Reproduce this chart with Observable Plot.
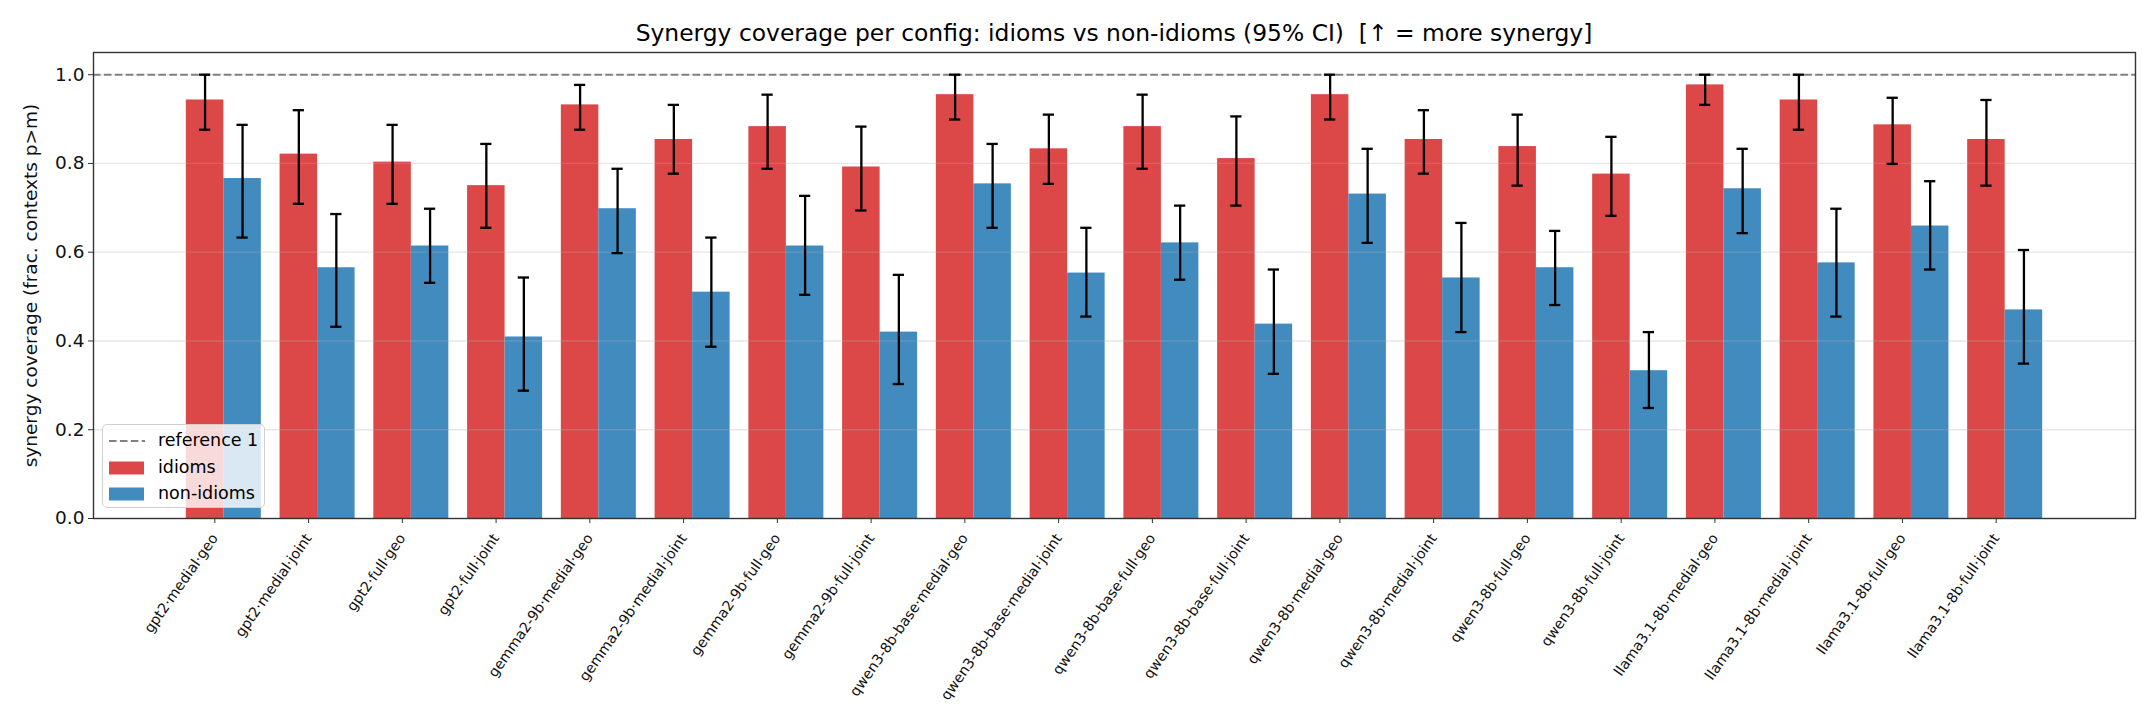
<!DOCTYPE html>
<html>
<head>
<meta charset="utf-8">
<script src="https://cdn.jsdelivr.net/npm/d3@7"></script>
<script src="https://cdn.jsdelivr.net/npm/@observablehq/plot@0.6"></script>
<style>
  html, body { margin: 0; padding: 0; background: #fff; }
  body { font-family: "DejaVu Sans", sans-serif; }
  #wrap { position: relative; width: 2156px; height: 728px; }
  #title { position: absolute; left: 93px; width: 2042px; top: 22px; text-align: center; font-size: 23.4px; color: #000; white-space: pre; line-height: 1; }
  #legend { position: absolute; left: 102px; top: 424px; width: 163px; height: 84px; border: 1.3px solid #d0d0d0; border-radius: 5px; background: rgba(255,255,255,0.8); box-sizing: border-box; }
  .lg { position: absolute; left: 0; font-size: 17.5px; color: #000; line-height: 1; }
  .lg svg { position: absolute; left: 6px; }
  .lg span { position: absolute; left: 55px; white-space: nowrap; }
</style>
</head>
<body>
<div id="wrap">
  <div id="chart"></div>
  <div id="title"></div>
  <div id="legend"></div>
</div>
<script>
const categories = [
  "gpt2·medial·geo", "gpt2·medial·joint", "gpt2·full·geo", "gpt2·full·joint",
  "gemma2-9b·medial·geo", "gemma2-9b·medial·joint", "gemma2-9b·full·geo", "gemma2-9b·full·joint",
  "qwen3-8b-base·medial·geo", "qwen3-8b-base·medial·joint", "qwen3-8b-base·full·geo", "qwen3-8b-base·full·joint",
  "qwen3-8b·medial·geo", "qwen3-8b·medial·joint", "qwen3-8b·full·geo", "qwen3-8b·full·joint",
  "llama3.1-8b·medial·geo", "llama3.1-8b·medial·joint", "llama3.1-8b·full·geo", "llama3.1-8b·full·joint"
];
const idiomsMean = [0.943, 0.821, 0.803, 0.750, 0.932, 0.854, 0.883, 0.792, 0.955, 0.833,
                    0.883, 0.811, 0.955, 0.854, 0.838, 0.776, 0.977, 0.943, 0.887, 0.854];
const idiomsLo   = [0.876, 0.709, 0.709, 0.655, 0.876, 0.777, 0.788, 0.694, 0.899, 0.754,
                    0.788, 0.705, 0.899, 0.777, 0.750, 0.682, 0.932, 0.876, 0.799, 0.750];
const idiomsHi   = [1.000, 0.920, 0.887, 0.844, 0.977, 0.932, 0.955, 0.883, 1.000, 0.910,
                    0.955, 0.906, 1.000, 0.920, 0.910, 0.860, 1.000, 1.000, 0.948, 0.943];
const nonMean = [0.766, 0.565, 0.614, 0.409, 0.698, 0.510, 0.614, 0.420, 0.754, 0.553,
                 0.621, 0.438, 0.731, 0.542, 0.565, 0.333, 0.743, 0.576, 0.659, 0.470];
const nonLo   = [0.633, 0.432, 0.531, 0.288, 0.598, 0.387, 0.504, 0.303, 0.655, 0.455,
                 0.538, 0.326, 0.621, 0.420, 0.481, 0.249, 0.643, 0.455, 0.561, 0.349];
const nonHi   = [0.887, 0.686, 0.698, 0.543, 0.788, 0.633, 0.727, 0.549, 0.844, 0.655,
                 0.705, 0.561, 0.833, 0.666, 0.648, 0.420, 0.833, 0.698, 0.760, 0.605];
const groups = ["idioms", "non-idioms"];
const groupColors = ["#dc4748", "#418bbf"];
const yTicks = [0, 0.2, 0.4, 0.6, 0.8, 1.0];
const gridLevels = [0.2, 0.4, 0.6, 0.8, 1.0];
const referenceLevel = [1];
const titleText = "Synergy coverage per config: idioms vs non-idioms (95% CI)  [↑ = more synergy]";
const yLabel = "synergy coverage (frac. contexts p>m)";
const referenceLabel = "reference 1";

const barW = 0.4;
const capHalf = 0.06;
const rows = [];
categories.forEach((c, i) => {
  rows.push({i, group: groups[0], x1: i - barW, x2: i, xc: i - barW / 2, mean: idiomsMean[i], lo: idiomsLo[i], hi: idiomsHi[i]});
  rows.push({i, group: groups[1], x1: i, x2: i + barW, xc: i + barW / 2, mean: nonMean[i], lo: nonLo[i], hi: nonHi[i]});
});
const caps = rows.flatMap(d => [{xc: d.xc, y: d.lo}, {xc: d.xc, y: d.hi}]);
const n = categories.length;
const pad = 0.05 * (n - 1 + 2 * barW);

const chart = Plot.plot({
  width: 2156,
  height: 728,
  marginLeft: 93,
  marginRight: 21,
  marginTop: 52,
  marginBottom: 210,
  style: {fontFamily: "DejaVu Sans, sans-serif", background: "#fff", color: "#000"},
  x: {type: "linear", domain: [-barW - pad, n - 1 + barW + pad]},
  y: {domain: [0, 1.05]},
  color: {domain: groups, range: groupColors},
  marks: [
    Plot.rect(rows, {x1: "x1", x2: "x2", y1: 0, y2: "mean", fill: "group"}),
    Plot.ruleY(gridLevels, {stroke: "#b0b0b0", strokeOpacity: 0.3, strokeWidth: 1.3}),
    Plot.ruleY(referenceLevel, {stroke: "#808080", strokeWidth: 2, strokeDasharray: "7.6,3.3"}),
    Plot.ruleX(rows, {x: "xc", y1: "lo", y2: "hi", stroke: "#000", strokeWidth: 2.3}),
    Plot.ruleY(caps, {y: "y", x1: d => d.xc - capHalf, x2: d => d.xc + capHalf, stroke: "#000", strokeWidth: 2.3}),
    Plot.frame({stroke: "#333", strokeWidth: 1.4}),
    Plot.axisY({ticks: yTicks, tickFormat: d3.format(".1f"), fontSize: 18.5, tickSize: 5, tickPadding: 4,
                stroke: "#333", fill: "#111", label: yLabel, labelAnchor: "center", labelArrow: "none", labelOffset: 70}),
    Plot.axisX({ticks: d3.range(n), tickFormat: i => categories[i], tickRotate: -55, fontSize: 14.3, tickSize: 5, tickPadding: 12, dx: -9,
                stroke: "#333", fill: "#111", label: null})
  ]
});
document.getElementById("chart").appendChild(chart);
document.getElementById("title").textContent = titleText;

// legend
const lg = document.getElementById("legend");
const entries = [
  {label: referenceLabel, kind: "line"},
  {label: groups[0], kind: "patch", color: groupColors[0]},
  {label: groups[1], kind: "patch", color: groupColors[1]}
];
entries.forEach((e, k) => {
  const row = document.createElement("div");
  row.className = "lg";
  row.style.top = (7 + k * 26.5) + "px";
  const sw = e.kind === "line"
    ? `<svg width="36" height="18"><line x1="0" x2="36" y1="9" y2="9" stroke="#808080" stroke-width="2" stroke-dasharray="7.6,3.3"/></svg>`
    : `<svg width="36" height="18"><rect x="0" y="2.5" width="35" height="13" fill="${e.color}"/></svg>`;
  row.innerHTML = sw + `<span style="top:0px">${e.label}</span>`;
  lg.appendChild(row);
});
</script>
</body>
</html>
